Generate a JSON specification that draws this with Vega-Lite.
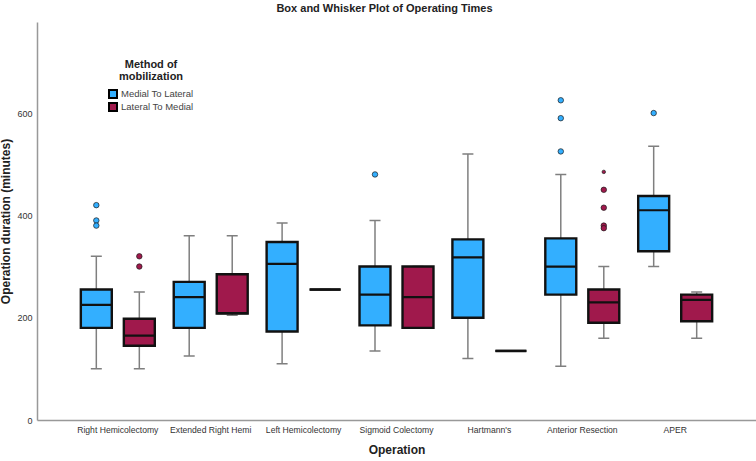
{
  "$schema": "https://vega.github.io/schema/vega-lite/v6.json",
  "width": 719,
  "height": 398,
  "autosize": {"type": "none"},
  "padding": {"left": 37, "top": 22, "right": 0, "bottom": 41},
  "title": {"text": "Box and Whisker Plot of Operating Times", "fontSize": 11, "font": "Liberation Sans", "fontWeight": "bold", "color": "#222222", "anchor": "middle", "offset": 8, "dx": -12},
  "datasets": {
    "boxes": [
      {"op": "Right Hemicolectomy", "method": "Medial To Lateral", "lo": 100, "q1": 180, "med": 225, "q3": 255, "hi": 320},
      {"op": "Right Hemicolectomy", "method": "Lateral To Medial", "lo": 100, "q1": 145, "med": 165, "q3": 198, "hi": 250},
      {"op": "Extended Right Hemi", "method": "Medial To Lateral", "lo": 125, "q1": 180, "med": 240, "q3": 270, "hi": 360},
      {"op": "Extended Right Hemi", "method": "Lateral To Medial", "lo": 205, "q1": 208, "med": 209, "q3": 285, "hi": 360},
      {"op": "Left Hemicolectomy", "method": "Medial To Lateral", "lo": 110, "q1": 173, "med": 305, "q3": 348, "hi": 385},
      {"op": "Left Hemicolectomy", "method": "Lateral To Medial", "lo": 255, "q1": 255, "med": 255, "q3": 255, "hi": 255},
      {"op": "Sigmoid Colectomy", "method": "Medial To Lateral", "lo": 135, "q1": 185, "med": 245, "q3": 300, "hi": 390},
      {"op": "Sigmoid Colectomy", "method": "Lateral To Medial", "lo": 180, "q1": 180, "med": 240, "q3": 300, "hi": 300},
      {"op": "Hartmann's", "method": "Medial To Lateral", "lo": 120, "q1": 200, "med": 318, "q3": 353, "hi": 520},
      {"op": "Hartmann's", "method": "Lateral To Medial", "lo": 135, "q1": 135, "med": 135, "q3": 135, "hi": 135},
      {"op": "Anterior Resection", "method": "Medial To Lateral", "lo": 105, "q1": 245, "med": 300, "q3": 355, "hi": 480},
      {"op": "Anterior Resection", "method": "Lateral To Medial", "lo": 160, "q1": 190, "med": 230, "q3": 255, "hi": 300},
      {"op": "APER", "method": "Medial To Lateral", "lo": 300, "q1": 330, "med": 410, "q3": 438, "hi": 535},
      {"op": "APER", "method": "Lateral To Medial", "lo": 160, "q1": 193, "med": 235, "q3": 245, "hi": 250}
    ],
    "outliers": [
      {"op": "Right Hemicolectomy", "method": "Medial To Lateral", "value": 420, "kind": "outlier"},
      {"op": "Right Hemicolectomy", "method": "Medial To Lateral", "value": 390, "kind": "outlier"},
      {"op": "Right Hemicolectomy", "method": "Medial To Lateral", "value": 380, "kind": "outlier"},
      {"op": "Right Hemicolectomy", "method": "Lateral To Medial", "value": 320, "kind": "outlier"},
      {"op": "Right Hemicolectomy", "method": "Lateral To Medial", "value": 300, "kind": "outlier"},
      {"op": "Sigmoid Colectomy", "method": "Medial To Lateral", "value": 480, "kind": "outlier"},
      {"op": "Anterior Resection", "method": "Medial To Lateral", "value": 625, "kind": "outlier"},
      {"op": "Anterior Resection", "method": "Medial To Lateral", "value": 590, "kind": "outlier"},
      {"op": "Anterior Resection", "method": "Medial To Lateral", "value": 525, "kind": "outlier"},
      {"op": "Anterior Resection", "method": "Lateral To Medial", "value": 485, "kind": "extreme"},
      {"op": "Anterior Resection", "method": "Lateral To Medial", "value": 450, "kind": "outlier"},
      {"op": "Anterior Resection", "method": "Lateral To Medial", "value": 415, "kind": "outlier"},
      {"op": "Anterior Resection", "method": "Lateral To Medial", "value": 380, "kind": "outlier"},
      {"op": "Anterior Resection", "method": "Lateral To Medial", "value": 375, "kind": "outlier"},
      {"op": "APER", "method": "Medial To Lateral", "value": 600, "kind": "outlier"}
    ]
  },
  "encoding": {
    "x": {
      "field": "op", "type": "nominal",
      "sort": ["Right Hemicolectomy", "Extended Right Hemi", "Left Hemicolectomy", "Sigmoid Colectomy", "Hartmann's", "Anterior Resection", "APER"],
      "scale": {"paddingInner": 0, "paddingOuter": 0.37},
      "axis": {"title": "Operation", "labelAngle": 0, "ticks": false, "labelPadding": 5, "labelFontSize": 8.6, "labelColor": "#333333", "titlePadding": 11, "titleFontSize": 12, "titleFontWeight": "bold", "titleColor": "#222222", "domainColor": "#999999", "domainWidth": 1.5, "labelFont": "Liberation Sans", "titleFont": "Liberation Sans"}
    },
    "xOffset": {
      "field": "method", "type": "nominal",
      "sort": ["Medial To Lateral", "Lateral To Medial"],
      "scale": {"paddingInner": 0.28, "paddingOuter": 0.22}
    },
    "color": {
      "field": "method", "type": "nominal",
      "sort": ["Medial To Lateral", "Lateral To Medial"],
      "scale": {"domain": ["Medial To Lateral", "Lateral To Medial"], "range": ["#33AFFF", "#A0194C"]},
      "legend": {
        "title": ["Method of", "mobilization"],
        "orient": "none", "legendX": 71, "legendY": 37,
        "titleFontSize": 11, "titleFontWeight": "bold", "titleColor": "#222222", "titleFont": "Liberation Sans",
        "titleAlign": "center", "titleAnchor": "middle", "titlePadding": 7, "titleLineHeight": 12,
        "symbolType": "square", "symbolSize": 64, "symbolStrokeColor": "#000000", "symbolStrokeWidth": 2, "symbolOpacity": 1,
        "labelFontSize": 9.5, "labelColor": "#444444", "labelFont": "Liberation Sans", "labelOffset": 3, "rowPadding": -7, "padding": 0
      }
    }
  },
  "layer": [
    {
      "data": {"name": "boxes"},
      "mark": {"type": "rule", "color": "#7F7F7F", "strokeWidth": 1.5},
      "encoding": {"y": {"field": "lo", "type": "quantitative"}, "y2": {"field": "hi"}, "color": {"value": "#7F7F7F"}}
    },
    {
      "data": {"name": "boxes"},
      "mark": {"type": "bar", "width": 11, "fillOpacity": 0, "stroke": "#7F7F7F", "strokeWidth": 1.5},
      "encoding": {"y": {"field": "lo", "type": "quantitative"}, "y2": {"field": "lo"}, "color": {"value": "#7F7F7F"}}
    },
    {
      "data": {"name": "boxes"},
      "mark": {"type": "bar", "width": 11, "fillOpacity": 0, "stroke": "#7F7F7F", "strokeWidth": 1.5},
      "encoding": {"y": {"field": "hi", "type": "quantitative"}, "y2": {"field": "hi"}, "color": {"value": "#7F7F7F"}}
    },
    {
      "data": {"name": "boxes"},
      "mark": {"type": "bar", "stroke": "#111111", "strokeWidth": 2.4, "opacity": 1},
      "encoding": {
        "y": {"field": "q1", "type": "quantitative", "scale": {"domain": [0, 778], "nice": false}, "axis": {"title": "Operation duration (minutes)", "values": [0, 200, 400, 600], "grid": false, "ticks": false, "labelPadding": 5, "labelFontSize": 9, "labelColor": "#333333", "titleFontSize": 12, "titleFontWeight": "bold", "titleColor": "#222222", "titlePadding": 4, "domainColor": "#999999", "domainWidth": 1.5, "labelFont": "Liberation Sans", "titleFont": "Liberation Sans"}},
        "y2": {"field": "q3"}
      }
    },
    {
      "data": {"name": "boxes"},
      "mark": {"type": "bar", "fillOpacity": 0, "stroke": "#111111", "strokeWidth": 2.2},
      "encoding": {"y": {"field": "med", "type": "quantitative"}, "y2": {"field": "med"}, "color": {"value": "#111111"}}
    },
    {
      "data": {"name": "outliers"},
      "mark": {"type": "point", "filled": true, "shape": "circle", "opacity": 1, "stroke": "#1a1a1a", "strokeWidth": 0.7},
      "encoding": {
        "y": {"field": "value", "type": "quantitative"},
        "size": {"field": "kind", "type": "nominal", "scale": {"domain": ["outlier", "extreme"], "range": [30, 12]}, "legend": null}
      }
    }
  ],
  "config": {
    "view": {"stroke": null},
    "font": "Liberation Sans"
  }
}
